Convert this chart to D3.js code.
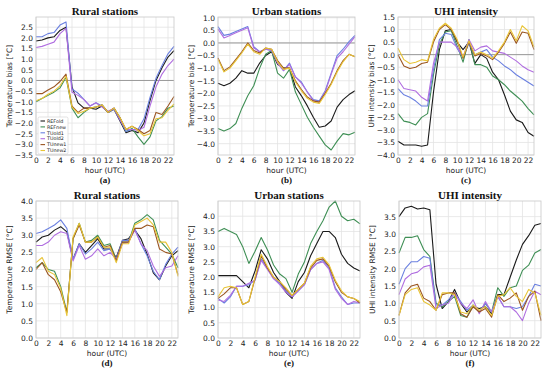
<!DOCTYPE html>
<html><head><meta charset="utf-8">
<script src="https://cdn.jsdelivr.net/npm/d3@7"></script>
<style>body{margin:0;background:#fff}svg{display:block}</style>
</head><body>
<script>
const hours = d3.range(0, 24);
const seriesNames = ["REFold", "REFnew", "TUold1", "TUold2", "TUnew1", "TUnew2"];
const seriesColors = ["#1a1a1a", "#3f8f55", "#6b80e0", "#b06ee0", "#9a5520", "#e8c437"];

// (a) Rural stations temperature bias
const ruralBias = [
 [1.85,1.9,2.0,2.05,2.35,2.5,-0.3,-1.05,-1.3,-1.3,-1.35,-1.2,-1.5,-1.35,-1.9,-2.45,-2.35,-2.45,-2.0,-0.95,0.0,0.6,1.1,1.4],
 [-1.0,-0.85,-0.7,-0.55,-0.35,0.15,-1.3,-1.75,-1.5,-1.3,-1.25,-1.15,-1.5,-1.3,-1.75,-2.4,-2.25,-2.65,-3.0,-2.65,-1.9,-1.7,-1.3,-1.2],
 [2.05,2.05,2.2,2.25,2.6,2.75,-0.4,-0.6,-0.9,-1.2,-1.05,-1.2,-1.5,-1.35,-1.85,-2.4,-2.3,-2.3,-1.8,-0.8,0.1,0.7,1.25,1.6],
 [1.55,1.6,1.7,1.8,2.2,2.45,-0.55,-0.7,-0.9,-1.2,-1.05,-1.25,-1.45,-1.3,-1.85,-2.3,-2.3,-2.35,-2.2,-1.2,-0.3,0.3,0.7,1.0],
 [-0.62,-0.62,-0.45,-0.3,-0.05,0.3,-1.2,-1.5,-1.3,-1.3,-1.25,-1.15,-1.5,-1.3,-1.75,-2.3,-2.15,-2.3,-2.5,-2.35,-1.5,-1.6,-1.2,-0.75],
 [-0.95,-0.85,-0.65,-0.5,-0.25,0.2,-1.25,-1.55,-1.45,-1.3,-1.25,-1.15,-1.5,-1.3,-1.75,-2.3,-2.15,-2.35,-2.6,-2.5,-1.8,-1.75,-1.4,-1.1]
];
// (b) Urban stations temperature bias
const urbanBias = [
 [-1.6,-1.7,-1.6,-1.4,-1.1,-1.2,-1.2,-0.8,-0.5,-0.35,-0.85,-1.0,-1.0,-1.75,-2.1,-2.5,-2.95,-3.35,-3.3,-3.1,-2.55,-2.25,-2.05,-1.9],
 [-3.4,-3.5,-3.4,-3.2,-2.6,-2.1,-1.7,-1.0,-0.45,-0.3,-1.2,-1.4,-1.05,-1.95,-2.45,-2.95,-3.35,-3.7,-4.05,-4.25,-3.9,-3.6,-3.65,-3.55],
 [0.65,0.3,0.35,0.45,0.55,0.65,-0.15,-0.35,-0.25,-0.3,-0.75,-1.1,-0.8,-1.35,-1.55,-1.95,-2.25,-2.3,-1.9,-1.2,-0.5,-0.25,0.05,0.3],
 [0.55,0.2,0.3,0.4,0.5,0.6,-0.2,-0.35,-0.25,-0.3,-0.8,-1.1,-0.85,-1.35,-1.6,-1.95,-2.3,-2.35,-1.95,-1.25,-0.6,-0.35,-0.05,0.25],
 [-0.6,-1.1,-0.95,-0.65,-0.35,0.0,-0.3,-0.4,-0.2,-0.25,-0.7,-1.0,-1.0,-1.5,-1.85,-2.15,-2.3,-2.35,-2.0,-1.6,-1.1,-0.7,-0.45,-0.55],
 [-0.65,-1.15,-1.0,-0.7,-0.4,-0.05,-0.35,-0.45,-0.2,-0.25,-0.75,-1.05,-1.0,-1.55,-1.9,-2.2,-2.35,-2.4,-2.05,-1.65,-1.15,-0.75,-0.45,-0.55]
];
// (c) UHI intensity bias
const uhiBias = [
 [-3.45,-3.6,-3.6,-3.6,-3.65,-3.6,-1.5,0.2,0.95,1.0,0.5,0.2,0.5,-0.35,0.0,-0.15,-0.7,-1.0,-1.6,-2.25,-2.6,-2.7,-3.1,-3.25],
 [-2.35,-2.65,-2.7,-2.8,-2.5,-2.35,-0.8,0.4,0.9,0.95,0.35,-0.3,0.6,-0.4,-0.4,-0.5,-0.85,-1.0,-1.2,-1.45,-1.65,-1.85,-2.15,-2.4],
 [-1.35,-1.6,-1.7,-1.85,-2.05,-2.05,-0.6,0.6,0.85,0.8,0.25,-0.1,0.45,0.0,0.1,0.2,-0.1,-0.25,-0.45,-0.6,-0.8,-0.95,-1.1,-1.25],
 [-1.0,-1.35,-1.4,-1.45,-1.7,-1.85,-0.35,0.5,0.5,0.5,0.3,-0.1,0.6,0.15,0.3,0.35,0.15,0.1,0.05,-0.1,-0.25,-0.45,-0.6,-0.7],
 [0.0,-0.45,-0.55,-0.5,-0.35,-0.3,0.5,1.0,1.2,1.0,0.55,-0.15,0.5,-0.05,0.05,-0.05,-0.2,0.1,0.45,0.9,0.45,0.9,0.85,0.2],
 [0.25,-0.2,-0.35,-0.3,-0.2,-0.25,0.6,1.05,1.25,1.05,0.6,-0.1,0.55,0.0,0.1,0.0,-0.15,0.15,0.5,1.0,0.55,1.15,0.95,0.3]
];
// (d) Rural stations temperature RMSE
const ruralRmse = [
 [2.8,2.95,3.0,3.15,3.25,3.1,2.3,2.75,2.5,2.7,2.9,2.6,2.6,2.35,2.85,2.9,3.15,2.9,2.45,1.9,1.7,2.1,2.4,2.55],
 [2.05,2.2,2.0,1.95,1.5,0.75,2.9,3.35,2.8,2.85,3.0,2.7,2.75,2.3,2.8,2.8,3.35,3.45,3.6,3.45,2.85,2.65,2.45,2.05],
 [3.05,3.1,3.2,3.3,3.45,3.2,2.3,2.75,2.45,2.6,2.8,2.55,2.6,2.3,2.85,2.85,3.2,2.75,2.4,1.95,1.7,2.15,2.45,2.65],
 [2.7,2.7,2.8,3.0,3.1,3.05,2.25,2.7,2.3,2.4,2.6,2.4,2.5,2.3,2.75,2.8,3.15,2.75,2.55,2.1,1.8,2.05,2.1,2.4],
 [2.0,2.2,1.85,1.7,1.35,0.75,2.9,3.3,2.8,2.8,2.95,2.65,2.7,2.25,2.8,2.8,3.2,3.2,3.3,3.25,2.6,2.5,2.45,1.85],
 [2.2,2.35,1.95,1.85,1.45,0.65,2.95,3.35,2.8,2.8,2.95,2.65,2.65,2.2,2.75,2.75,3.3,3.4,3.5,3.3,2.8,2.8,2.5,1.8]
];
// (e) Urban stations temperature RMSE
const urbanRmse = [
 [2.05,2.05,2.05,2.05,1.85,1.65,2.2,2.9,2.6,2.15,1.85,1.5,1.3,1.85,2.15,2.7,3.1,3.5,3.5,3.3,2.75,2.45,2.3,2.2],
 [3.5,3.6,3.5,3.4,3.0,2.45,2.85,3.3,2.9,2.4,2.1,1.95,1.5,2.1,2.5,3.1,3.5,3.85,4.3,4.5,4.0,3.85,3.9,3.75],
 [1.3,1.15,1.35,1.7,1.7,1.75,1.9,2.6,2.3,1.95,1.8,1.55,1.35,1.55,1.75,2.25,2.45,2.55,2.3,1.65,1.35,1.1,1.15,1.15],
 [1.25,1.2,1.4,1.7,1.7,1.8,1.9,2.55,2.25,1.95,1.75,1.5,1.35,1.55,1.75,2.25,2.45,2.5,2.25,1.6,1.3,1.1,1.2,1.15],
 [1.3,1.45,1.65,1.65,1.1,1.2,1.95,2.7,2.3,2.0,1.85,1.6,1.4,1.6,1.8,2.3,2.55,2.6,2.35,1.85,1.5,1.35,1.3,1.15],
 [1.35,1.65,1.7,1.65,1.1,1.2,2.0,2.75,2.35,2.0,1.85,1.65,1.4,1.6,1.8,2.35,2.6,2.65,2.4,1.9,1.55,1.35,1.3,1.2]
];
// (f) UHI intensity RMSE
const uhiRmse = [
 [3.5,3.75,3.8,3.72,3.75,3.7,1.55,0.85,1.05,1.4,1.0,0.75,0.9,0.85,0.9,0.7,1.25,1.25,1.75,2.25,2.7,2.95,3.25,3.3],
 [2.45,2.9,2.9,2.95,2.55,2.35,1.0,0.9,1.05,1.2,0.65,0.6,0.95,0.75,1.0,0.75,1.45,1.2,1.45,1.5,1.95,2.1,2.45,2.55],
 [1.55,2.0,2.2,2.2,2.35,2.3,0.95,0.95,1.1,1.3,1.05,0.8,0.95,0.75,1.0,0.75,1.2,0.9,0.9,0.85,0.9,1.2,1.55,1.5],
 [1.25,1.7,1.85,1.9,2.05,2.1,0.85,0.95,1.0,1.3,1.0,0.85,1.1,0.7,1.05,0.75,1.2,0.9,0.9,0.75,0.5,1.0,1.35,1.25],
 [0.65,1.3,1.5,1.55,1.15,1.05,0.8,1.25,1.3,1.3,0.7,0.6,0.9,0.75,0.85,0.6,1.25,1.05,1.15,1.3,0.8,1.2,1.35,0.5],
 [0.65,1.25,1.4,1.45,1.05,0.95,0.8,1.3,1.3,1.25,0.75,0.7,0.95,0.8,0.9,0.65,1.2,1.25,1.45,1.2,1.05,1.4,1.3,0.65]
];

const xTicks = d3.range(0, 24, 2);
const biasTicksA = d3.range(-3.5, 2.51, 0.5);
const biasTicksB = d3.range(-4.0, 1.01, 0.5);
const biasTicksC = d3.range(-4.0, 1.51, 0.5);
const rmseTicksD = d3.range(0, 4.01, 0.5);
const rmseTicksE = d3.range(0, 4.01, 0.5);
const rmseTicksF = d3.range(0, 3.51, 0.5);

const W = 550, H = 368;
const sans = "'DejaVu Sans', sans-serif";
const serif = "'Liberation Serif', 'DejaVu Serif', serif";
const svg = d3.select("body").append("svg").attr("width", W).attr("height", H)
  .style("font-family", sans);

const panels = [
 {data: ruralBias, title: "Rural stations", ylabel: "Temperature bias [°C]", sub: "(a)", box: [36,174,17,155], dom: [-3.5,2.98], ticks: biasTicksA, zero: true, legend: true},
 {data: urbanBias, title: "Urban stations", ylabel: "Temperature bias [°C]", sub: "(b)", box: [218,355,17,155], dom: [-4.45,1.03], ticks: biasTicksB, zero: true},
 {data: uhiBias, title: "UHI intensity", ylabel: "UHI intensity bias [°C]", sub: "(c)", box: [398,534,17,155], dom: [-4.0,1.5], ticks: biasTicksC, zero: true},
 {data: ruralRmse, title: "Rural stations", ylabel: "Temperature RMSE [°C]", sub: "(d)", box: [36,178,201,338], dom: [0,4.0], ticks: rmseTicksD},
 {data: urbanRmse, title: "Urban stations", ylabel: "Temperature RMSE [°C]", sub: "(e)", box: [218,360,201,338], dom: [0,4.5], ticks: rmseTicksE},
 {data: uhiRmse, title: "UHI intensity", ylabel: "UHI intensity RMSE [°C]", sub: "(f)", box: [399,541,201,338], dom: [0,3.95], ticks: rmseTicksF}
];

const fmt = v => { const s = d3.format(".1f")(Math.abs(v) < 1e-9 ? 0 : v); return s.replace("-", "\u2212"); };

panels.forEach(p => {
  const [x0, x1, y0, y1] = p.box;
  const x = d3.scaleLinear().domain([0, 23]).range([x0, x1]);
  const y = d3.scaleLinear().domain(p.dom).range([y1, y0]);
  const g = svg.append("g");

  // grid
  g.append("g").selectAll("line").data(xTicks).join("line")
    .attr("x1", d => x(d)).attr("x2", d => x(d)).attr("y1", y0).attr("y2", y1)
    .attr("stroke", "#e3e3e3").attr("stroke-width", 0.8);
  g.append("g").selectAll("line").data(p.ticks).join("line")
    .attr("x1", x0).attr("x2", x1).attr("y1", d => y(d)).attr("y2", d => y(d))
    .attr("stroke", "#e3e3e3").attr("stroke-width", 0.8);

  // axes (labels only)
  const xa = g.append("g").attr("transform", `translate(0,${y1})`)
    .call(d3.axisBottom(x).tickValues(xTicks).tickSize(0).tickPadding(2.5).tickFormat(d3.format("d")));
  xa.select(".domain").remove();
  xa.selectAll("text").attr("font-size", 7.5).attr("fill", "#222").style("font-family", sans);
  const ya = g.append("g").attr("transform", `translate(${x0},0)`)
    .call(d3.axisLeft(y).tickValues(p.ticks).tickSize(0).tickPadding(3).tickFormat(fmt));
  ya.select(".domain").remove();
  ya.selectAll("text").attr("font-size", 7.5).attr("fill", "#222").style("font-family", sans);

  if (p.zero) {
    g.append("line").attr("x1", x0).attr("x2", x1).attr("y1", y(0)).attr("y2", y(0))
      .attr("stroke", "#9a9a9a").attr("stroke-width", 1);
  }

  const line = d3.line().x((d, i) => x(hours[i])).y(d => y(d));
  g.append("g").selectAll("path").data(p.data).join("path")
    .attr("d", d => line(d)).attr("fill", "none")
    .attr("stroke", (d, i) => seriesColors[i]).attr("stroke-width", 1.1)
    .attr("stroke-linejoin", "round");

  // frame
  g.append("rect").attr("x", x0).attr("y", y0).attr("width", x1 - x0).attr("height", y1 - y0)
    .attr("fill", "none").attr("stroke", "#c8c8c8").attr("stroke-width", 0.8);

  // titles
  const cx = (x0 + x1) / 2;
  g.append("text").attr("x", cx).attr("y", y0 - 2.5).attr("text-anchor", "middle")
    .attr("font-size", 11).attr("font-weight", "bold").style("font-family", serif)
    .attr("fill", "#111").text(p.title);
  g.append("text").attr("x", cx).attr("y", y1 + 17.5).attr("text-anchor", "middle")
    .attr("font-size", 7.5).attr("fill", "#222").text("hour (UTC)");
  g.append("text").attr("x", cx).attr("y", y1 + 27.5).attr("text-anchor", "middle")
    .attr("font-size", 9).attr("font-weight", "bold").style("font-family", serif)
    .attr("fill", "#111").text(p.sub);
  g.append("text").attr("transform", `translate(${x0 - 24},${(y0 + y1) / 2}) rotate(-90)`)
    .attr("text-anchor", "middle").attr("font-size", 7.5).attr("fill", "#222").text(p.ylabel);

  if (p.legend) {
    const lx = x0 + 2, ly = 117;
    const lg = g.append("g");
    lg.append("rect").attr("x", lx).attr("y", ly).attr("width", 30).attr("height", 37)
      .attr("fill", "#fff").attr("fill-opacity", 0.85).attr("stroke", "#d0d0d0").attr("stroke-width", 0.6).attr("rx", 1.5);
    seriesNames.forEach((n, i) => {
      const yy = ly + 4 + i * 5.9;
      lg.append("line").attr("x1", lx + 2.5).attr("x2", lx + 7).attr("y1", yy).attr("y2", yy)
        .attr("stroke", seriesColors[i]).attr("stroke-width", 1.1);
      lg.append("text").attr("x", lx + 9).attr("y", yy + 1.7).attr("font-size", 4.8).attr("fill", "#222").text(n);
    });
  }
});
</script>
</body></html>
